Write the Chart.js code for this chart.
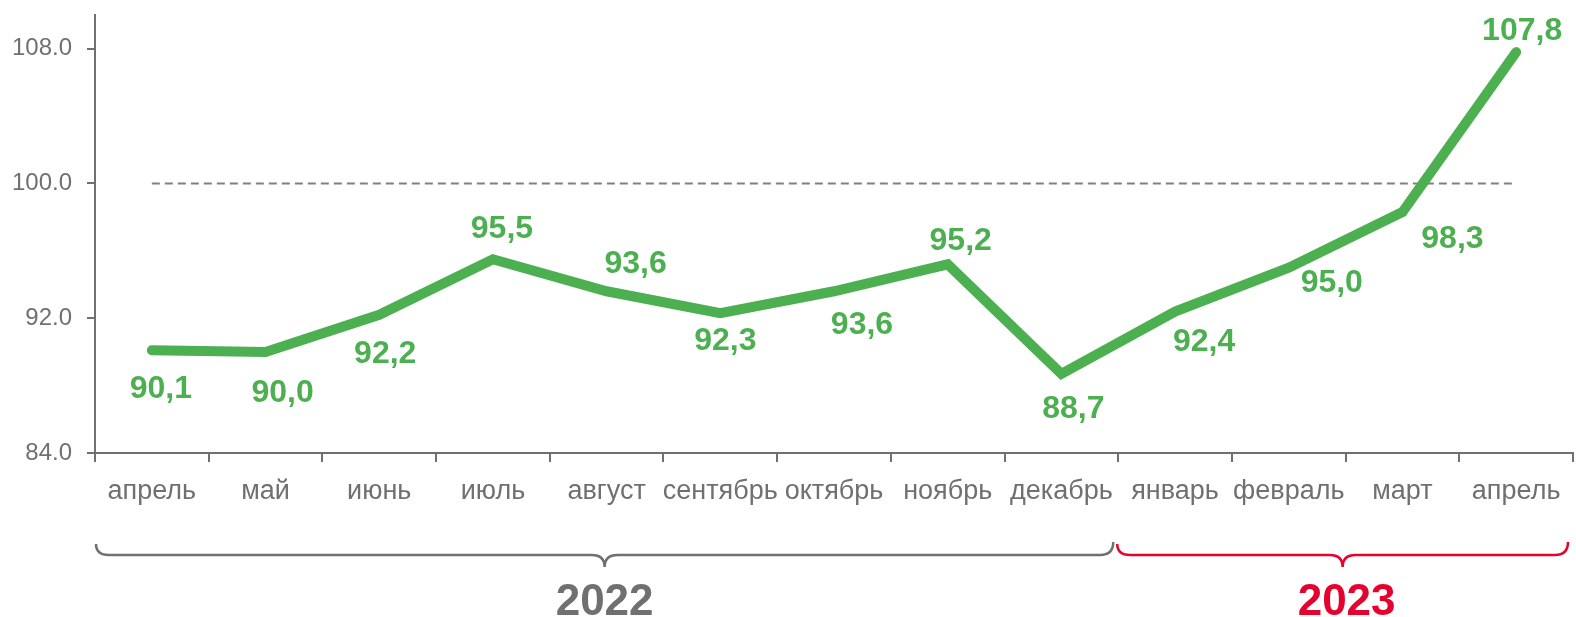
<!DOCTYPE html>
<html>
<head>
<meta charset="utf-8">
<script src="https://cdn.jsdelivr.net/npm/chart.js@4/dist/chart.umd.min.js"></script>
<style>
  html, body { margin: 0; padding: 0; background: #fff; }
  #wrap { width: 1576px; height: 617px; position: relative; }
</style>
</head>
<body>
<div id="wrap"><canvas id="chart"></canvas></div>
<script>
// data
const months = ["апрель", "май", "июнь", "июль", "август", "сентябрь", "октябрь", "ноябрь", "декабрь", "январь", "февраль", "март", "апрель"];
const indexValues = [90.1, 90.0, 92.2, 95.5, 93.6, 92.3, 93.6, 95.2, 88.7, 92.4, 95.0, 98.3, 107.8];
const baseLine = [100, 100, 100, 100, 100, 100, 100, 100, 100, 100, 100, 100, 100];
const yTicks = [84, 92, 100, 108];
const years = ["2022", "2023"];
const yearSpans = [[0, 8], [9, 12]];

const GREEN = "#4caf50";
const GRAY = "#707070";
const RED = "#e4032e";
const FONT = "'Liberation Sans', Arial, sans-serif";

// label offsets from the point, px
const labelShift = [
  [9, 39], [17, 41], [6, 39], [9, -30], [29, -27], [5, 28], [28, 34],
  [13, -23], [12, 35], [29, 31], [43, 15], [50, 27], [6, -21]
];

const valueLabels = {
  id: "valueLabels",
  afterDatasetsDraw(chart) {
    const ctx = chart.ctx;
    const meta = chart.getDatasetMeta(0);
    ctx.save();
    ctx.font = "bold 32px " + FONT;
    ctx.fillStyle = GREEN;
    ctx.textAlign = "center";
    ctx.textBaseline = "middle";
    meta.data.forEach((pt, i) => {
      const txt = indexValues[i].toFixed(1).replace(".", ",");
      ctx.fillText(txt, pt.x + labelShift[i][0], pt.y + labelShift[i][1]);
    });
    ctx.restore();
  }
};

function drawBrace(ctx, x1, x2, y, color) {
  const mid = (x1 + x2) / 2;
  const r = 13;
  ctx.beginPath();
  ctx.moveTo(x1, y - 11);
  ctx.quadraticCurveTo(x1, y, x1 + r, y);
  ctx.lineTo(mid - r, y);
  ctx.quadraticCurveTo(mid, y, mid, y + 12);
  ctx.quadraticCurveTo(mid, y, mid + r, y);
  ctx.lineTo(x2 - r, y);
  ctx.quadraticCurveTo(x2, y, x2, y - 13);
  ctx.strokeStyle = color;
  ctx.lineWidth = 2.5;
  ctx.stroke();
}

const yearBraces = {
  id: "yearBraces",
  afterDraw(chart) {
    const ctx = chart.ctx;
    const xs = chart.scales.x;
    const half = (xs.getPixelForValue(1) - xs.getPixelForValue(0)) / 2;
    const colors = [GRAY, RED];
    ctx.save();
    yearSpans.forEach((sp, k) => {
      const x1 = xs.getPixelForValue(sp[0]) - half + (k === 0 ? 1 : -1);
      const x2 = xs.getPixelForValue(sp[1]) + half - 5;
      drawBrace(ctx, x1, x2, 555, colors[k]);
      ctx.font = "bold 44px " + FONT;
      ctx.fillStyle = colors[k];
      ctx.textAlign = "center";
      ctx.textBaseline = "alphabetic";
      ctx.fillText(years[k], (x1 + x2) / 2 + (k === 1 ? 4 : 0), 615);
    });
    ctx.restore();
  }
};

new Chart(document.getElementById("chart"), {
  type: "line",
  data: {
    labels: months,
    datasets: [{
      data: indexValues,
      borderColor: GREEN,
      borderWidth: 10,
      borderCapStyle: "round",
      borderJoinStyle: "miter",
      pointRadius: 0,
      tension: 0
    }, {
      data: baseLine,
      borderColor: "#808080",
      borderWidth: 2,
      borderDash: [8, 5],
      pointRadius: 0,
      tension: 0
    }]
  },
  options: {
    responsive: true,
    maintainAspectRatio: false,
    animation: false,
    layout: { padding: { top: 15, right: 3, left: 0, bottom: 0 } },
    plugins: { legend: { display: false }, tooltip: { enabled: false } },
    scales: {
      x: {
        offset: true,
        afterFit(scale) { scale.height = 164; scale.paddingLeft = 0; scale.paddingRight = 0; },
        grid: { offset: true, drawOnChartArea: false, drawTicks: true, tickLength: 9, color: GRAY, lineWidth: 2 },
        border: { display: true, color: GRAY, width: 2 },
        ticks: { color: GRAY, font: { family: FONT, size: 27 }, padding: 13, maxRotation: 0, autoSkip: false }
      },
      y: {
        min: 84,
        max: 110,
        afterFit(scale) { scale.width = 95; scale.paddingTop = 0; scale.paddingBottom = 0; },
        afterBuildTicks(scale) { scale.ticks = yTicks.map(v => ({ value: v })); },
        grid: { drawOnChartArea: false, drawTicks: true, tickLength: 8, color: GRAY, lineWidth: 2 },
        border: { display: true, color: GRAY, width: 2 },
        ticks: {
          color: GRAY,
          font: { family: FONT, size: 24 },
          padding: 15,
          callback: v => Number(v).toFixed(1)
        }
      }
    }
  },
  plugins: [valueLabels, yearBraces]
});
</script>
</body>
</html>
